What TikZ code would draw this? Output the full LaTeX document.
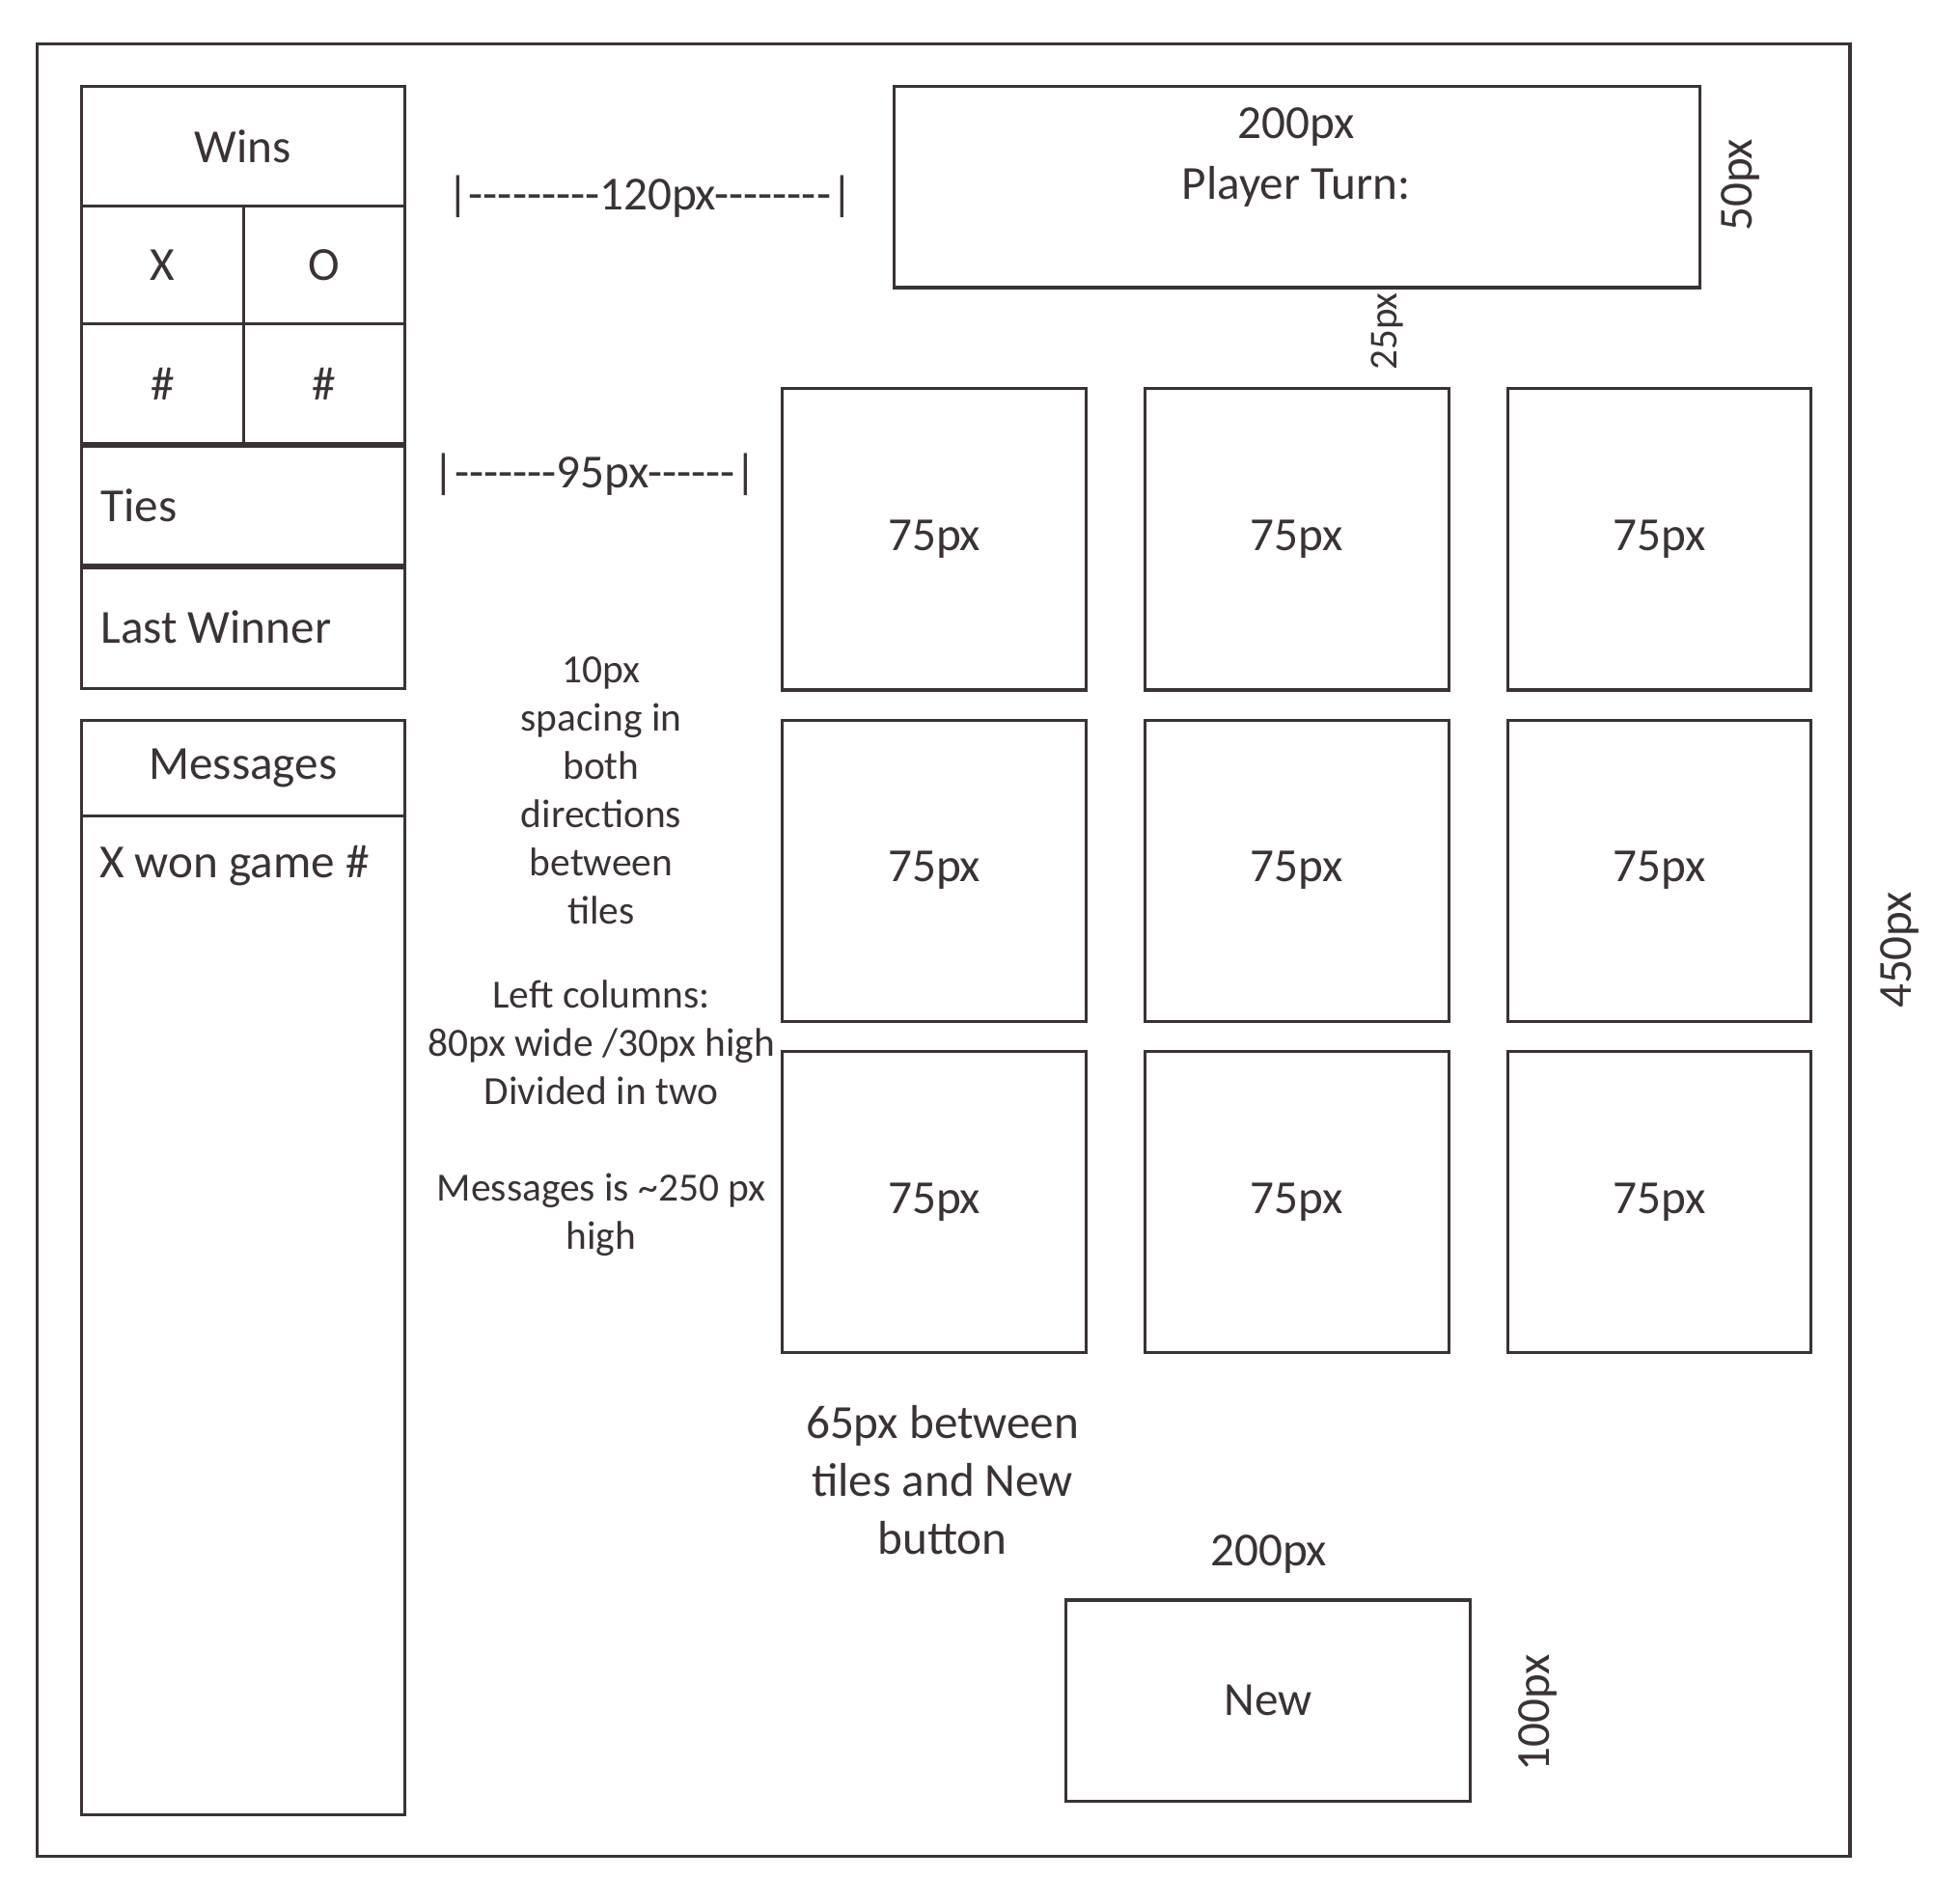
\documentclass[tikz,border=0pt]{standalone}
\usepackage{fontspec}
\setmainfont{Carlito}
\usetikzlibrary{positioning}
\definecolor{ink}{RGB}{58,50,54}
\newcommand\dashes[1]{\foreach\i in {1,...,#1}{-}}

\begin{document}
\begin{tikzpicture}[x=0.1mm, y=-0.1mm, color=ink,
    box/.style={rectangle, draw=ink, line width=0.7pt, anchor=north west,
                inner sep=0pt, outer sep=0pt, text=ink, font=\fontsize{10.8}{13}\selectfont},
    txt/.style={inner sep=0pt, text=ink, font=\fontsize{10.8}{13}\selectfont},
    note/.style={inner sep=0pt, text=ink, align=center, font=\fontsize{9.1}{10.95}\selectfont},
    tile/.style={box, minimum width=24.3mm, minimum height=24.1mm},
    side/.style={box, minimum width=25.9mm, minimum height=9.7mm},
    half/.style={box, minimum width=13mm, minimum height=9.4mm},
    heavy/.style={line width=1.3pt}
]
    \useasboundingbox (0,0) rectangle (1568,1502);
    \node[box, minimum width=145mm, minimum height=145mm] (frame) at (30,35) {};

    % left column
    \node[side, minimum height=9.6mm] (wins) at (65,69) {Wins};
    \node[half] (xwins) at (wins.south west) {X};
    \node[half, minimum width=12.9mm] (owins) at (xwins.north east) {O};
    \node[half, minimum height=9.7mm] (xcount) at (xwins.south west) {\#};
    \node[half, minimum width=12.9mm, minimum height=9.7mm] (ocount) at (xcount.north east) {\#};
    \node[side] (ties) at (xcount.south west) {};
    \node[side, minimum height=9.8mm] (last) at (ties.south west) {};
    \node[txt, anchor=west] (tiestext) at ([xshift=1.5mm]ties.west) {Ties};
    \node[txt, anchor=west] (lasttext) at ([xshift=1.5mm]last.west) {Last Winner};
    \draw[heavy] (ties.north west) -- (ties.north east);
    \draw[heavy] (last.north west) -- (last.north east);

    \node[side, minimum height=7.7mm] (msghead) at (65,576) {Messages};
    \node[side, minimum height=79.9mm] (msgbody) at (msghead.south west) {};
    \node[txt, anchor=north west] (msgline) at ([xshift=1.4mm, yshift=-2.3mm]msgbody.north west) {X won game \#};

    % spacing notes
    \node[txt] (gap120) at (520,157) {|\dashes{9}120px\dashes{8}|};
    \node[txt] (gap95) at (476,380) {|\dashes{7}95px\dashes{6}|};
    \node[note, anchor=north] (notes) at (481,525) {10px\\spacing in\\both\\directions\\between\\tiles\\[2.9mm]
        Left columns:\\80px wide /30px high\\Divided in two\\[3.9mm]
        Messages is \textasciitilde250 px\\high};

    % player turn
    \node[box, minimum width=64.5mm, minimum height=16.1mm] (turn) at (715,69) {};
    \node[txt, align=center, font=\fontsize{10.8}{13.9}\selectfont] (turntext) at (1037,126) {200px\\Player Turn:};
    \node[txt, rotate=90] (turnh) at (1392,148) {50px};
    \node[txt, rotate=90, font=\fontsize{9}{11}\selectfont] (turngap) at (1110,265) {25px};

    % tiles
    \foreach \r/\y in {1/311, 2/576, 3/841}
        \foreach \c/\x in {1/626, 2/916, 3/1206}
            \node[tile] (tile-\r-\c) at (\x,\y) {75px};
    \node[txt, rotate=90] (boardh) at (1520,760) {450px};

    % new button
    \node[txt, align=center, font=\fontsize{10.8}{13.1}\selectfont] (newgap) at (754,1184) {65px between\\tiles and New\\button};
    \node[txt] (neww) at (1015,1243) {200px};
    \node[box, minimum width=32.3mm, minimum height=16.1mm] (new) at (853,1280) {New};
    \node[txt, rotate=90] (newh) at (1230,1370) {100px};
\end{tikzpicture}
\end{document}
